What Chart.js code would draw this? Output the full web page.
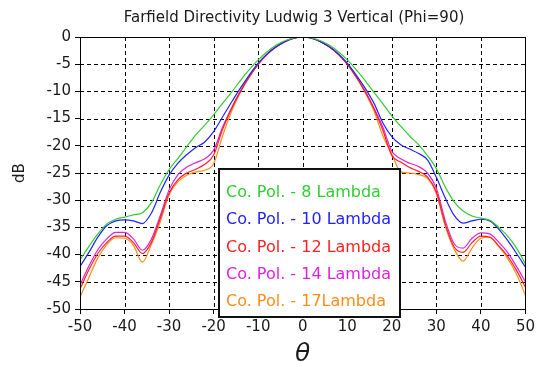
<!DOCTYPE html>
<html>
<head>
<meta charset="utf-8">
<script src="https://cdn.jsdelivr.net/npm/chart.js@4"></script>
<style>
html,body{margin:0;padding:0;background:#fff}
#wrap{width:539px;height:367px;position:relative}
</style>
</head>
<body>
<div id="wrap"><canvas id="farfield"></canvas></div>
<script>

// DATA

const theta = [-50,-48,-46,-44,-42,-40,-38,-36,-34,-32,-30,-28,-26,-24,-22,-20,-18,-16,-14,-12,-10,-8,-6,-4,-2,0,
2,4,6,8,10,12,14,16,18,20,22,24,26,28,30,32,34,36,38,40,42,44,46,48,50]

const lambda8 = [-41,-38.5,-36.2,-34.4,-33.5,-33.1,-32.7,-32.3,-30.5,-27.2,-24.4,-22.3,-20.1,-18,-16.2,-14.3,-12.2,-10.2,-8,-6,-4.2,-2.7,-1.5,-0.7,-0.15,0,
-0.15,-0.7,-1.5,-2.7,-4.2,-6,-8,-10.2,-12.3,-14.5,-16.4,-18.2,-19.8,-21.8,-24.2,-27.6,-30.3,-32,-32.9,-33.3,-33.7,-35,-36.6,-38.8,-41.7]

const lambda10 = [-42.2,-39.6,-36.8,-34.7,-33.8,-33.6,-33.8,-34.3,-32.4,-28.6,-25.4,-23.2,-21.6,-20.3,-19.3,-17.4,-14.7,-12,-9.4,-7,-4.8,-3.1,-1.8,-0.85,-0.22,0,
-0.22,-0.85,-1.8,-3.1,-4.8,-7,-9.4,-12.2,-15.8,-18.3,-19.8,-20.6,-21.4,-22.6,-25.8,-29.6,-32.8,-34.2,-33.8,-33.5,-33.8,-35.3,-37.4,-39.8,-42.3]

const lambda12 = [-46.3,-42.8,-39.8,-37.8,-36.6,-36.6,-37.8,-39.8,-37.8,-33.4,-28.7,-26.2,-25,-24.3,-23.4,-21.7,-17,-13.2,-10,-7.3,-5,-3.2,-1.85,-0.85,-0.22,0,
-0.22,-0.85,-1.85,-3.2,-5,-7.3,-10,-13.2,-17.2,-21.8,-23,-24,-24.7,-25.7,-28.5,-34.4,-38.6,-39.6,-37.8,-36.6,-36.8,-38.4,-40.3,-42.9,-46]

const lambda14 = [-45.6,-42.1,-39.1,-37.1,-35.9,-35.9,-37.1,-39.2,-37.2,-32.9,-28.1,-25.3,-23.9,-23.1,-22.4,-20.8,-16.6,-13.1,-10,-7.3,-5,-3.2,-1.85,-0.85,-0.22,0,
-0.22,-0.85,-1.85,-3.2,-5,-7.3,-10,-13.1,-16.6,-21,-22.4,-23.2,-23.8,-25,-27.8,-33.8,-38,-38.8,-37,-36,-36.2,-37.7,-39.6,-42.2,-45]

const lambda17 = [-47.8,-44.2,-40.6,-38.2,-36.9,-37,-38.3,-41.4,-38.2,-34,-29,-26.6,-25.4,-24.8,-24.5,-23.3,-18.2,-13.7,-10.2,-7.4,-5,-3.2,-1.8,-0.85,-0.2,0,
-0.2,-0.85,-1.8,-3.2,-5,-7.4,-10.2,-13.6,-18.2,-21.5,-24.8,-25,-25.3,-26,-28.8,-34.8,-39,-41.2,-38.8,-37,-36.8,-38.5,-40.7,-43.6,-47.5]

const seriesNames = ['Co. Pol. - 8 Lambda','Co. Pol. - 10 Lambda','Co. Pol. - 12 Lambda','Co. Pol. - 14 Lambda','Co. Pol. - 17Lambda']
const seriesColors = ['#33cc33','#2222ff','#ff2020','#dd22dd','#ff8c1a']
const xTicks = [-50,-40,-30,-20,-10,0,10,20,30,40,50]
const yTicks = [0,-5,-10,-15,-20,-25,-30,-35,-40,-45,-50]

const FONT = 'DejaVu Sans'

function pts(ys){
return theta.map((t,i)=>({x:t,y:ys[i]}))
}

// grid, frame, titles and legend box

const decor = {
id:'decor',
beforeDatasetsDraw(chart){
const {ctx,chartArea:a,scales:{x,y}} = chart
ctx.save()
ctx.strokeStyle = '#000'
ctx.lineWidth = 1
ctx.setLineDash([4,3])
ctx.beginPath()
xTicks.forEach(v=>{
let px = Math.round(x.getPixelForValue(v))+0.5
ctx.moveTo(px,a.top); ctx.lineTo(px,a.bottom)
})
yTicks.forEach(v=>{
let py = Math.round(y.getPixelForValue(v))+0.5
ctx.moveTo(a.left,py); ctx.lineTo(a.right,py)
})
ctx.stroke()
ctx.restore()
},
afterDraw(chart){
const {ctx,chartArea:a} = chart
ctx.save()

// frame
ctx.strokeStyle = '#000'
ctx.lineWidth = 1
ctx.strokeRect(Math.round(a.left)+0.5,Math.round(a.top)+0.5,Math.round(a.right-a.left),Math.round(a.bottom-a.top))

// title
ctx.fillStyle = '#1a1a1a'
ctx.font = '15px "'+FONT+'"'
ctx.textAlign = 'center'
ctx.textBaseline = 'middle'
ctx.fillText('Farfield Directivity Ludwig 3 Vertical (Phi=90)',294,18)

// axis titles
ctx.font = 'italic 25px "'+FONT+'"'
ctx.fillText('θ',(a.left+a.right)/2,354)
ctx.font = '15px "'+FONT+'"'
ctx.translate(20,(a.top+a.bottom)/2)
ctx.rotate(-Math.PI/2)
ctx.fillText('dB',0,0)
ctx.restore()

// legend
ctx.save()
let bx = 219, by = 169, bw = 181, bh = 148
ctx.fillStyle = '#fff'
ctx.fillRect(bx,by,bw,bh)
ctx.strokeStyle = '#111'
ctx.lineWidth = 2
ctx.strokeRect(bx,by,bw,bh)
ctx.font = '16px "'+FONT+'"'
ctx.textAlign = 'left'
ctx.textBaseline = 'middle'
seriesNames.forEach((n,i)=>{
ctx.fillStyle = seriesColors[i]
ctx.fillText(n,bx+7,by+24+i*27.2)
})
ctx.restore()
}
}

const datasets = [lambda8,lambda10,lambda12,lambda14,lambda17].map((d,i)=>({
label:seriesNames[i],
data:pts(d),
borderColor:seriesColors[i],
backgroundColor:seriesColors[i],
borderWidth:1.2,
pointRadius:0,
cubicInterpolationMode:'monotone',
fill:false
}))

const ctx = document.getElementById('farfield')

const farfieldChart = new Chart(ctx,{
type:'line',
data:{datasets:datasets},
options:{
responsive:true,
maintainAspectRatio:false,
animation:false,
layout:{padding:{top:37,right:12,left:0,bottom:0}},
plugins:{legend:{display:false},tooltip:{enabled:false}},
scales:{
x:{
type:'linear',
min:-50,max:50,
afterBuildTicks:s=>{s.ticks = xTicks.map(v=>({value:v}))},
afterFit:s=>{s.height = 58},
grid:{drawOnChartArea:false,tickLength:5,color:'#000'},
border:{display:false},
ticks:{color:'#1a1a1a',font:{family:FONT,size:15},padding:4,maxRotation:0}
},
y:{
type:'linear',
min:-50,max:0,
afterBuildTicks:s=>{s.ticks = yTicks.map(v=>({value:v}))},
afterFit:s=>{s.width = 80},
grid:{drawOnChartArea:false,tickLength:5,color:'#000'},
border:{display:false},
ticks:{color:'#1a1a1a',font:{family:FONT,size:15},padding:4}
}
}
},
plugins:[decor]
})

</script>
</body>
</html>
